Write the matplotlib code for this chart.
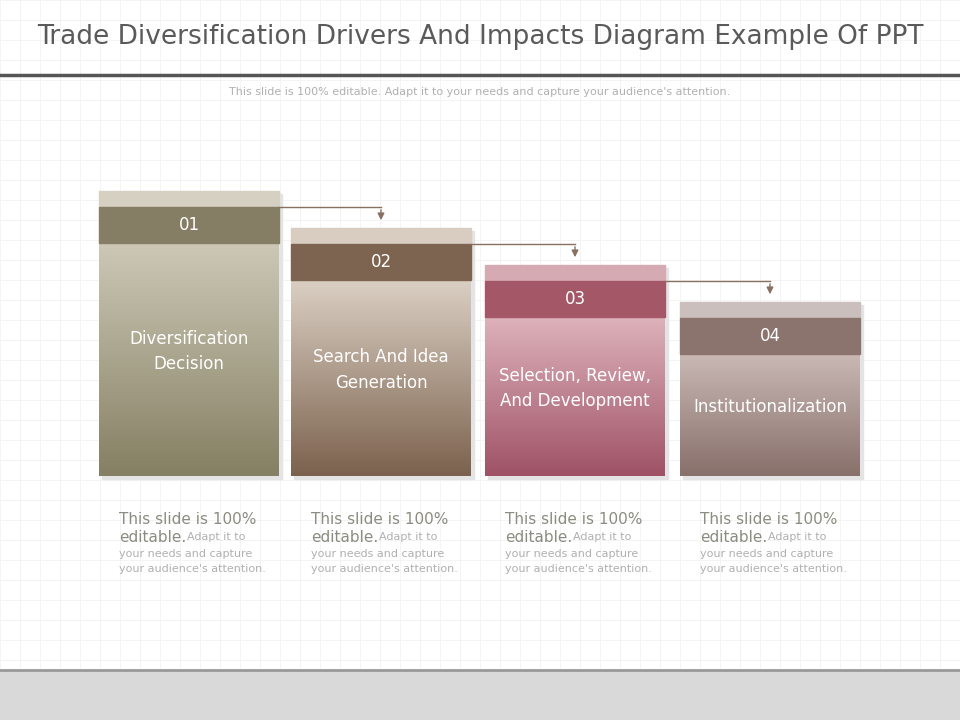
import numpy as np
import matplotlib
matplotlib.use("Agg")
import matplotlib.pyplot as plt
from matplotlib.colors import LinearSegmentedColormap

# data
step_labels = ["01", "02", "03", "04"]
step_titles = ["Diversification\nDecision", "Search And Idea\nGeneration",
               "Selection, Review,\nAnd Development", "Institutionalization"]
step_heights = [285, 248, 211, 174]  # px above the common baseline
band_colors = ["#857e64", "#7c6450", "#a45867", "#8b746e"]
strip_colors = ["#d6d0c2", "#d9cdc2", "#d6aab3", "#cbbfbd"]
grad_top = ["#cdc8b6", "#dacfc3", "#ddb2ba", "#c9b8b4"]
grad_bot = ["#858063", "#7c624e", "#9f5266", "#88706b"]

title = "Trade Diversification Drivers And Impacts Diagram Example Of PPT"
subtitle = "This slide is 100% editable. Adapt it to your needs and capture your audience's attention."

fig = plt.figure(figsize=(9.6, 7.2), dpi=100)
ax = fig.add_axes([0, 0, 1, 1])
ax.set_xlim(0, 960)
ax.set_ylim(720, 0)
ax.axis("off")

# faint grid background
for g in np.arange(0, 960, 20):
    ax.axvline(g, color="#f3f3f3", lw=0.6, zorder=0)
for g in np.arange(0, 720, 20):
    ax.axhline(g, color="#f3f3f3", lw=0.6, zorder=0)

ax.text(480, 37, title, ha="center", va="center", fontsize=19, color="#5a5a5a")
ax.plot([0, 960], [75, 75], color="#555555", lw=2.5)
ax.text(480, 92, subtitle, ha="center", va="center", fontsize=8, color="#b0b0b0")
ax.add_patch(plt.Rectangle((0, 670), 960, 50, color="#d9d9d9", zorder=1))
ax.plot([0, 960], [670, 670], color="#999999", lw=2)

lefts = [99, 291, 485, 680]
width = 180
base = 476
for i in range(4):
    x0 = lefts[i]
    top = base - step_heights[i]
    # shadow
    ax.add_patch(plt.Rectangle((x0 + 3, top + 3), width, base - top, color="#e4e4e4", zorder=2))
    cmap = LinearSegmentedColormap.from_list("g", [grad_top[i], grad_bot[i]])
    ax.imshow(np.linspace(0, 1, 100).reshape(-1, 1), cmap=cmap, aspect="auto",
              extent=(x0, x0 + width, base, top + 52), zorder=3)
    ax.add_patch(plt.Rectangle((x0, top), width, 16, color=strip_colors[i], zorder=4))
    ax.add_patch(plt.Rectangle((x0, top + 16), width, 36, color=band_colors[i], zorder=4))
    ax.text(x0 + width / 2, top + 34, step_labels[i], ha="center", va="center",
            fontsize=12, color="white", zorder=5)
    ax.text(x0 + width / 2, top + 52 + (base - top - 52) / 2 - 8, step_titles[i],
            ha="center", va="center", fontsize=12, color="white", zorder=5, linespacing=1.5)
    # arrow to next step
    if i < 3:
        nx = lefts[i + 1] + width / 2
        ax.plot([x0 + width, nx], [top + 16, top + 16], color="#8a7060", lw=1, zorder=5)
        ax.annotate("", xy=(nx, top + 32), xytext=(nx, top + 16),
                    arrowprops=dict(arrowstyle="-|>", color="#8a7060", lw=1), zorder=5)
    # description
    cx = x0 + 20
    ax.text(cx, 519, "This slide is 100%", fontsize=11, color="#8c8c80", va="center")
    ax.text(cx, 537, "editable.", fontsize=11, color="#8c8c80", va="center")
    ax.text(cx + 68, 537, "Adapt it to", fontsize=8, color="#b0b0b0", va="center")
    ax.text(cx, 554, "your needs and capture", fontsize=8, color="#b0b0b0", va="center")
    ax.text(cx, 569, "your audience's attention.", fontsize=8, color="#b0b0b0", va="center")

fig.savefig("out.png", dpi=100)
